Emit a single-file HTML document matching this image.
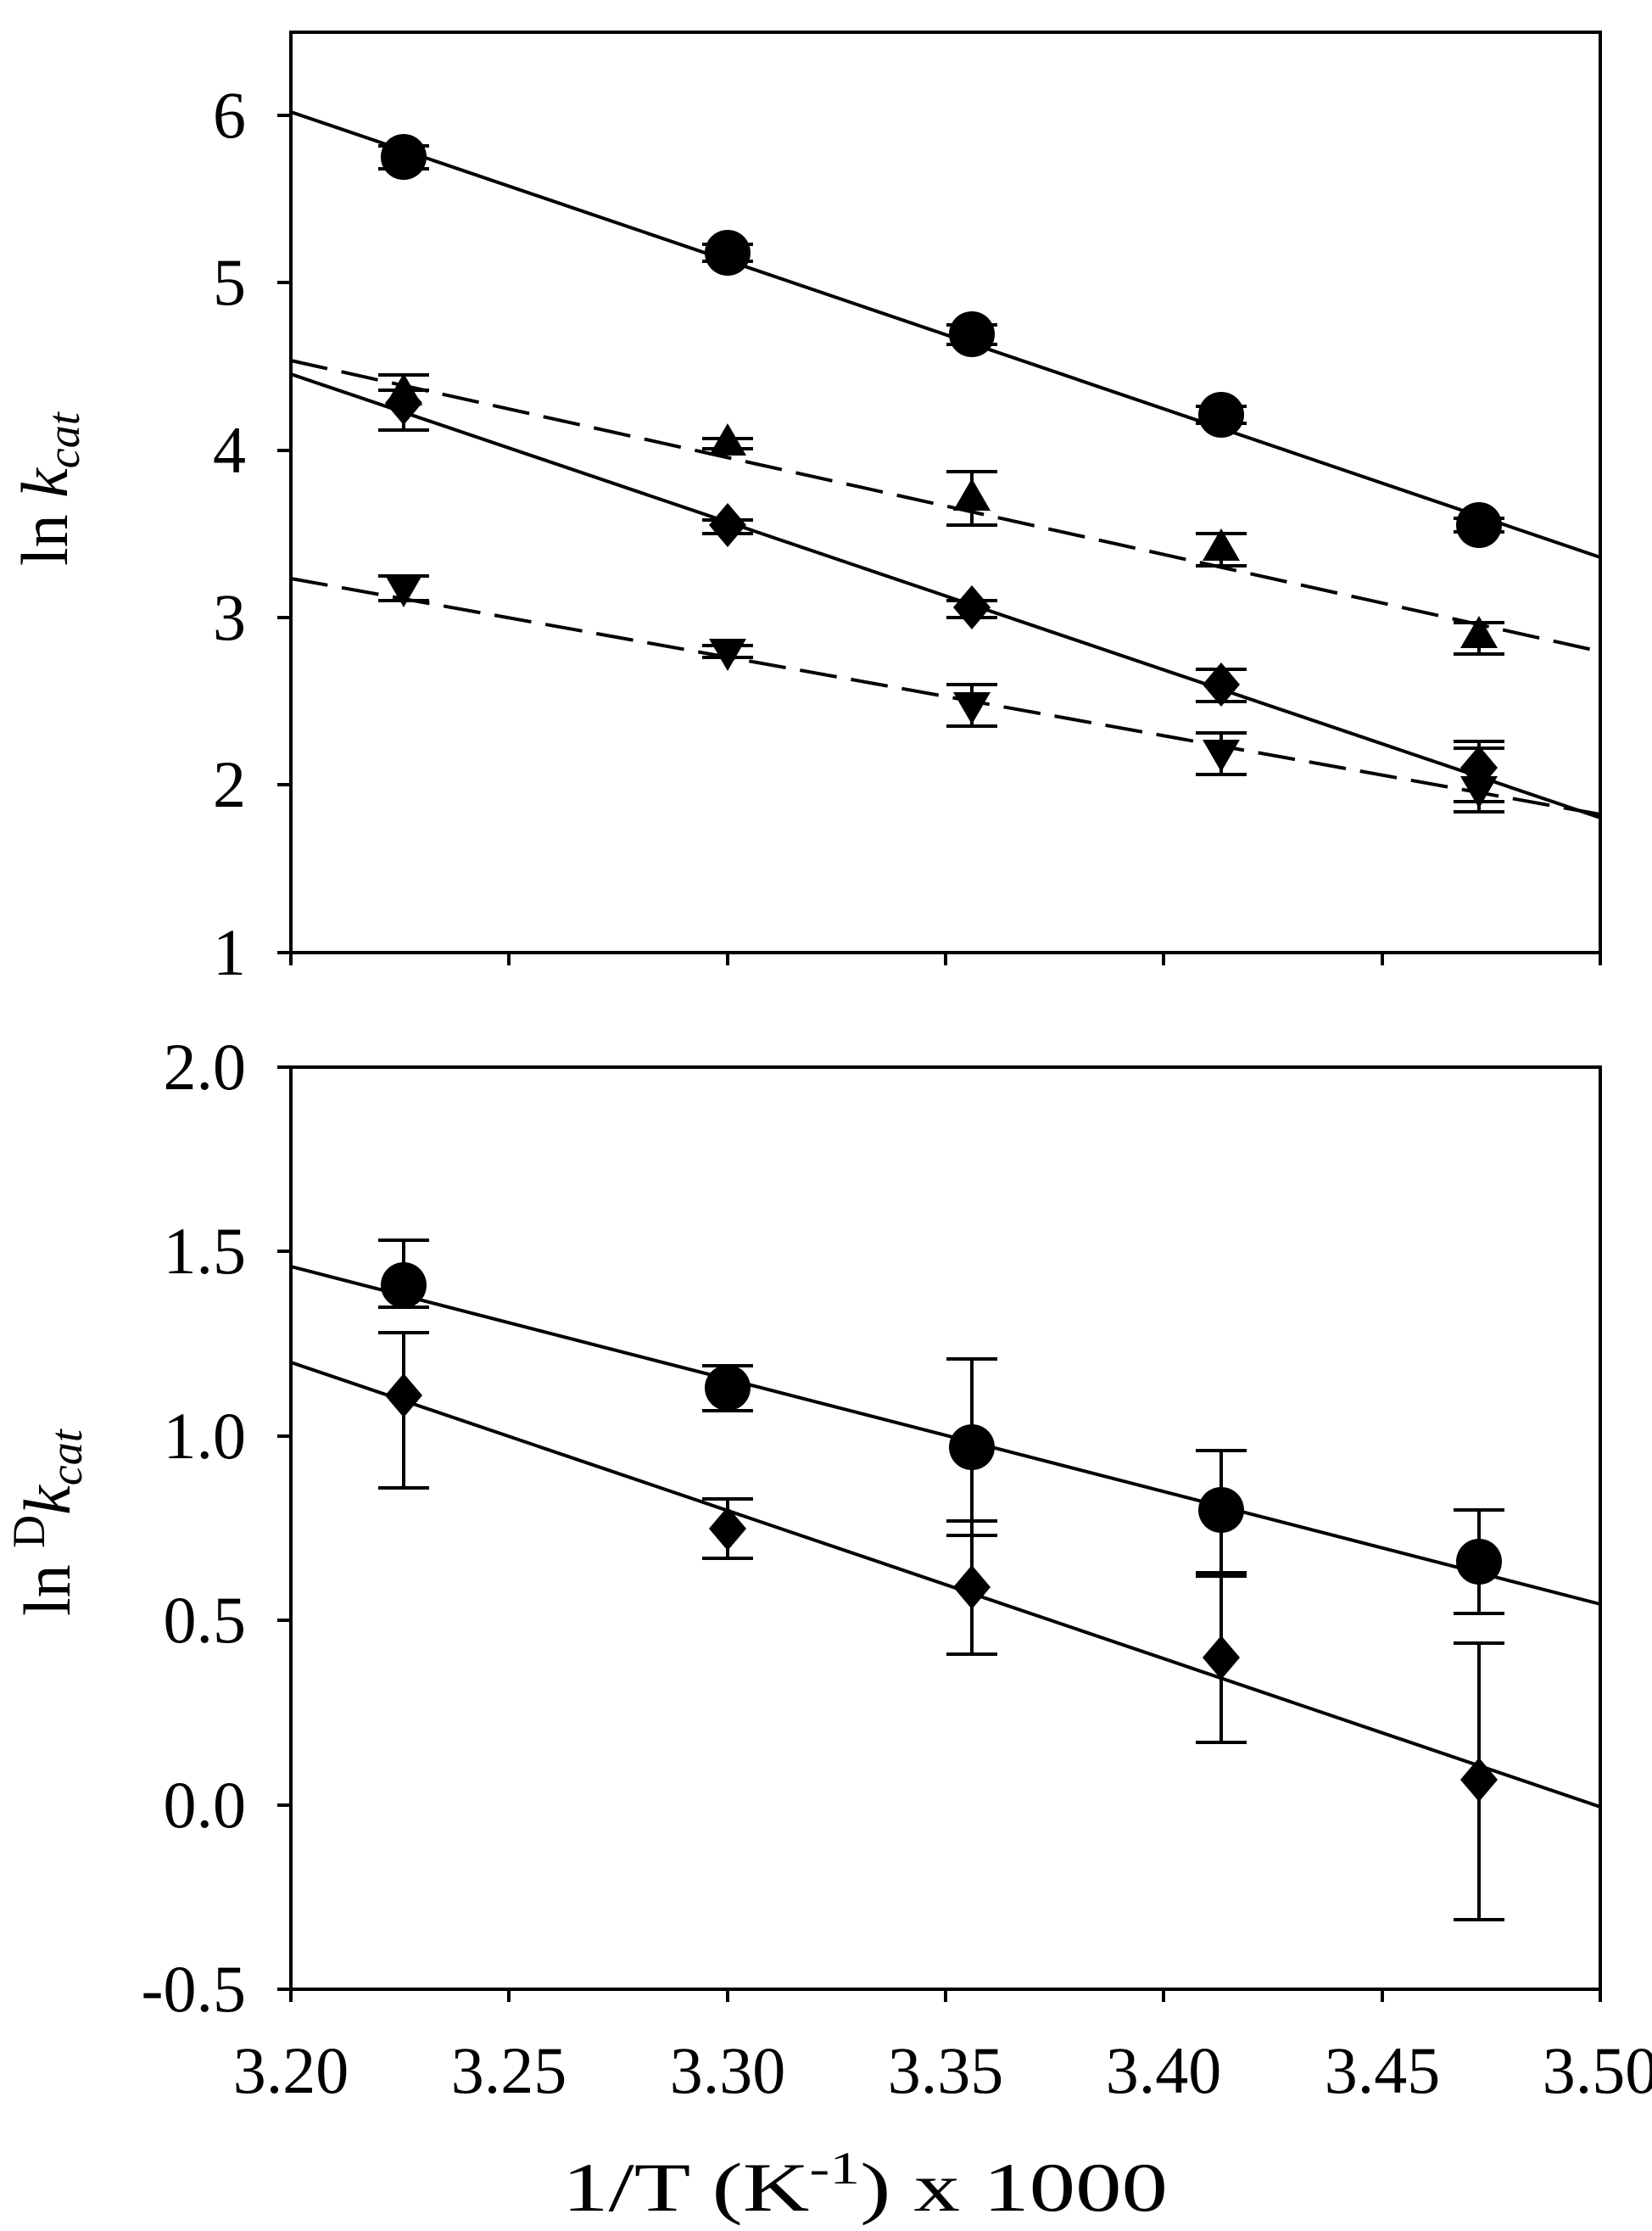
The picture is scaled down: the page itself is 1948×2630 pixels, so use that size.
<!DOCTYPE html>
<html><head><meta charset="utf-8"><style>html,body{margin:0;padding:0;background:#fff}svg{display:block}</style></head><body>
<svg xmlns="http://www.w3.org/2000/svg" width="1948" height="2630" viewBox="0 0 1948 2630" font-family="'Liberation Serif', serif">
<rect width="1948" height="2630" fill="#fff"/>
<g stroke="#000" stroke-width="4" fill="none">
<rect x="343" y="38" width="1544" height="1085"/>
<line x1="327" y1="136" x2="343" y2="136"/><line x1="327" y1="333" x2="343" y2="333"/><line x1="327" y1="531" x2="343" y2="531"/><line x1="327" y1="728" x2="343" y2="728"/><line x1="327" y1="925" x2="343" y2="925"/><line x1="327" y1="1123" x2="343" y2="1123"/>
<line x1="343" y1="1123" x2="343" y2="1138"/><line x1="600" y1="1123" x2="600" y2="1138"/><line x1="858" y1="1123" x2="858" y2="1138"/><line x1="1115" y1="1123" x2="1115" y2="1138"/><line x1="1372" y1="1123" x2="1372" y2="1138"/><line x1="1630" y1="1123" x2="1630" y2="1138"/><line x1="1887" y1="1123" x2="1887" y2="1138"/>
<rect x="343" y="1258" width="1544" height="1087"/>
<line x1="327" y1="1258" x2="343" y2="1258"/><line x1="327" y1="1475" x2="343" y2="1475"/><line x1="327" y1="1693" x2="343" y2="1693"/><line x1="327" y1="1910" x2="343" y2="1910"/><line x1="327" y1="2128" x2="343" y2="2128"/><line x1="327" y1="2345" x2="343" y2="2345"/>
<line x1="343" y1="2345" x2="343" y2="2360"/><line x1="600" y1="2345" x2="600" y2="2360"/><line x1="858" y1="2345" x2="858" y2="2360"/><line x1="1115" y1="2345" x2="1115" y2="2360"/><line x1="1372" y1="2345" x2="1372" y2="2360"/><line x1="1630" y1="2345" x2="1630" y2="2360"/><line x1="1887" y1="2345" x2="1887" y2="2360"/>
</g>
<g font-size="78" text-anchor="end">
<text x="290" y="162">6</text><text x="290" y="359">5</text><text x="290" y="557">4</text><text x="290" y="754">3</text><text x="290" y="951">2</text><text x="290" y="1149">1</text>
<text x="290" y="1284">2.0</text><text x="290" y="1501">1.5</text><text x="290" y="1719">1.0</text><text x="290" y="1936">0.5</text><text x="290" y="2154">0.0</text><text x="290" y="2371">-0.5</text>
</g>
<g font-size="78" text-anchor="middle">
<text x="343" y="2467">3.20</text><text x="600" y="2467">3.25</text><text x="858" y="2467">3.30</text><text x="1115" y="2467">3.35</text><text x="1372" y="2467">3.40</text><text x="1630" y="2467">3.45</text><text x="1887" y="2467">3.50</text>
</g>
<text x="663" y="2606" font-size="82" textLength="714" lengthAdjust="spacingAndGlyphs">1/T (K<tspan dy="-32" font-size="54">-1</tspan><tspan dy="32">) x 1000</tspan></text>
<text transform="translate(79,667) rotate(-90)" font-size="78">ln <tspan font-style="italic">k</tspan><tspan font-style="italic" font-size="54" dy="14">cat</tspan></text>
<text transform="translate(82,1905) rotate(-90)" font-size="78">ln <tspan font-size="54" dy="-30">D</tspan><tspan font-style="italic" dy="30">k</tspan><tspan font-style="italic" font-size="54" dy="14">cat</tspan></text>
<g stroke="#000" stroke-width="4" fill="none">
<line x1="343" y1="132" x2="1887" y2="657"/>
<line x1="343" y1="441" x2="1887" y2="964"/>
<line x1="343" y1="425" x2="1887" y2="768" stroke-dasharray="44,17"/>
<line x1="343" y1="682" x2="1887" y2="960" stroke-dasharray="44,17"/>
<line x1="343" y1="1493" x2="1887" y2="1891"/>
<line x1="343" y1="1606" x2="1887" y2="2130"/>
</g>
<g stroke="#000" stroke-width="4">
<path d="M476 172V199M446 172H506M446 199H506 M858 288V308M828 288H888M828 308H888 M1146 383V406M1116 383H1176M1116 406H1176 M1440 479V499M1410 479H1470M1410 499H1470 M1744 611V627M1714 611H1774M1714 627H1774"/>
<path d="M476 442V475M446 442H506 M858 517V529M828 517H888M828 529H888 M1146 556V619M1116 556H1176M1116 619H1176 M1440 629V667M1410 629H1470M1410 667H1470 M1744 734V771M1714 734H1774M1714 771H1774"/>
<path d="M476 442V507M446 507H506M446 460H506 M858 613V629M828 613H888M828 629H888 M1146 708V728M1116 708H1176M1116 728H1176 M1440 789V827M1410 789H1470M1410 827H1470 M1744 874V945M1714 874H1774M1714 945H1774"/>
<path d="M476 679V708M446 679H506M446 708H506 M858 761V775M828 761H888M828 775H888 M1146 807V856M1116 807H1176M1116 856H1176 M1440 864V913M1410 864H1470M1410 913H1470 M1744 882V957M1714 882H1774M1714 957H1774"/>
<path d="M476 1462V1541M446 1462H506M446 1541H506 M858 1610V1663M828 1610H888M828 1663H888 M1146 1602V1810M1116 1602H1176M1116 1810H1176 M1440 1710V1854M1410 1710H1470M1410 1854H1470 M1744 1780V1902M1714 1780H1774M1714 1902H1774"/>
<path d="M476 1571V1754M446 1571H506M446 1754H506 M858 1767V1837M828 1767H888M828 1837H888 M1146 1793V1950M1116 1793H1176M1116 1950H1176 M1440 1858V2054M1410 1858H1470M1410 2054H1470 M1744 1937V2263M1714 1937H1774M1714 2263H1774"/>
</g>
<g fill="#000">
<circle cx="476" cy="185" r="27"/><circle cx="858" cy="298" r="27"/><circle cx="1146" cy="394" r="27"/><circle cx="1440" cy="489" r="27"/><circle cx="1744" cy="619" r="27"/>
<path d="M476 440l22 38h-44z M858 499l22 38h-44z M1146 564l22 38h-44z M1440 623l22 38h-44z M1744 726l22 38h-44z"/>
<path d="M476 449l22 26-22 26-22-26z M858 593l22 26-22 26-22-26z M1146 690l22 26-22 26-22-26z M1440 781l22 26-22 26-22-26z M1744 879l22 26-22 26-22-26z"/>
<path d="M476 678l22 0-22 38-22-38z M858 753l22 0-22 38-22-38z M1146 816l22 0-22 38-22-38z M1440 872l22 0-22 38-22-38z M1744 915l22 0-22 38-22-38z"/>
<circle cx="476" cy="1515" r="27"/><circle cx="858" cy="1636" r="27"/><circle cx="1146" cy="1706" r="27"/><circle cx="1440" cy="1780" r="27"/><circle cx="1744" cy="1841" r="27"/>
<path d="M476 1619l22 26-22 26-22-26z M858 1776l22 26-22 26-22-26z M1146 1845l22 26-22 26-22-26z M1440 1928l22 26-22 26-22-26z M1744 2072l22 26-22 26-22-26z"/>
</g>
</svg>
</body></html>
